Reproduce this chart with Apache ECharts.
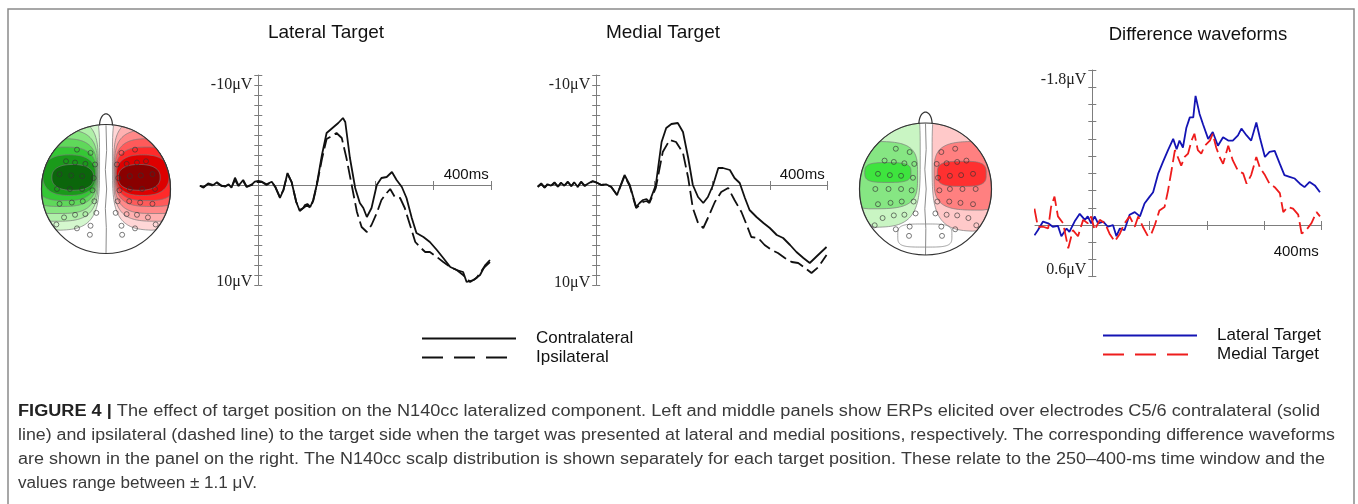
<!DOCTYPE html>
<html>
<head>
<meta charset="utf-8">
<title>N140cc figure</title>
<script src="https://cdn.jsdelivr.net/npm/echarts@6/dist/echarts.min.js"></script>
<style>
html, body { margin: 0; padding: 0; background: #fff; }
#main { width: 1358px; height: 504px; }
</style>
</head>
<body>
<div id="main"></div>
<script>
// ERP waveforms, time in ms, amplitude in microvolts (negative drawn upward)
const latContraT = [-100,-94,-86,-77,-71,-63,-57,-51,-46,-40,-34,-26,-20,-11,-6,0,6,14,23,29,37,43,50,57,65,71,77,80,84,89,94,100,109,117,123,129,137,145,149,157,166,174,180,186,194,203,211,220,229,237,246,254,263,271,283,294,306,317,329,340,351,357,369,380,389,397]
const latContraV = [0.07,0.27,-0.17,0,-0.27,0.07,0.17,-0.07,0.27,-0.73,0.07,-0.5,0.17,-0.07,-0.33,-0.4,-0.33,-0.07,-0.33,0.17,1.3,0.5,-1.2,-0.3,1.7,2.6,2.3,2.0,1.9,2.2,1.5,0,-3,-5.2,-5.5,-5.8,-6.2,-6.7,-6.3,-2.7,0.3,1.8,2.3,3.2,2.3,0,-0.7,-0.8,-1.3,-0.5,0.2,1.3,3.3,4.8,5.2,5.7,6.5,7.3,8.2,8.5,8.7,9.7,9.5,9.0,8.0,7.5]
const latIpsiT = [-100,-94,-86,-77,-71,-63,-57,-51,-46,-40,-34,-26,-20,-11,-6,0,6,14,23,29,37,43,50,57,65,71,77,84,89,94,100,109,117,123,134,143,151,160,169,177,186,194,203,211,220,226,234,243,251,260,269,277,286,294,306,317,329,340,351,363,374,386,397]
const latIpsiV = [0.1,0.2,-0.1,0.1,-0.2,0.1,0.1,0,0.2,-0.5,0.1,-0.4,0.2,0,-0.3,-0.3,-0.3,0,-0.3,0.2,1.2,0.5,-1.1,-0.3,1.7,2.5,2.3,2.0,2.3,1.6,0.1,-2.6,-4.6,-4.8,-5.2,-4.7,-2.7,0,2.7,4.2,4.7,4.0,2.8,1.5,0.8,0.4,1.2,1.3,2.3,4.0,5.7,6.2,6.7,6.7,7.2,7.7,8.2,8.5,9.0,9.7,9.3,8.3,7.7]

const medContraT = [-101,-95,-89,-84,-78,-72,-66,-61,-55,-49,-43,-38,-32,-26,-20,-13,-6,0,9,17,26,36,49,58,69,75,81,87,92,103,113,121,130,141,150,159,167,176,185,193,202,211,219,231,239,248,257,265,277,289,300,312,323,335,346,358,369,378,387,398]
const medContraV = [0.17,-0.17,0.27,-0.07,0.07,-0.27,0.17,-0.23,0.07,-0.33,0.13,-0.27,0.17,-0.33,0.07,-0.17,-0.4,-0.27,0,-0.07,0.17,1.0,-1.0,0,2.2,1.8,1.5,1.4,1.7,0,-4.3,-5.7,-6.1,-6.2,-5.3,-2.7,0,1.2,1.8,1.2,0,-1.7,-1.7,-1.5,-0.7,-0.2,1.3,2.5,3.2,3.8,4.3,5.0,5.3,6.0,6.7,7.3,7.8,7.3,6.8,6.2]
const medIpsiT = [-101,-95,-89,-84,-78,-72,-66,-61,-55,-49,-43,-38,-32,-26,-20,-13,-6,0,9,17,26,36,49,58,69,75,81,87,92,103,115,127,138,150,159,167,176,185,193,205,216,228,239,251,260,268,280,291,303,314,326,338,349,361,372,384,398]
const medIpsiV = [0.2,-0.1,0.25,-0.1,0.1,-0.2,0.15,-0.2,0.1,-0.3,0.1,-0.25,0.2,-0.3,0.1,-0.15,-0.35,-0.25,0,-0.05,0.2,1.0,-0.9,0.1,2.3,2.0,1.7,1.6,1.8,0.3,-3.3,-4.5,-4.3,-3.2,-0.7,2.3,3.8,4.3,3.3,1.7,0.7,0.3,1.5,2.7,4.0,5.2,5.3,6.0,6.5,6.8,7.3,7.7,7.8,8.3,8.8,8.2,7.0]

const diffLatT = [-101,-95,-86,-77,-69,-60,-54,-45,-40,-31,-22,-13,-8,-2,4,10,19,27,36,42,48,56,65,74,83,91,100,106,115,123,132,141,147,152,158,164,170,176,180,187,193,202,210,219,228,237,245,254,260,269,277,286,292,301,309,318,327,335,344,353,362,370,379,388,397]
const diffLatV = [0.12,0.06,-0.04,-0.02,0.02,0.01,0.13,0.04,0.08,-0.04,-0.13,-0.06,-0.1,-0.02,-0.1,-0.02,-0.04,0.02,0,0.13,0.04,0.06,-0.12,-0.15,-0.1,-0.25,-0.33,-0.38,-0.6,-0.73,-0.87,-1.0,-0.88,-0.98,-0.9,-1.13,-1.25,-1.25,-1.5,-1.29,-1.17,-1.0,-1.08,-0.92,-1.02,-0.98,-0.98,-1.04,-1.12,-1.04,-0.98,-1.19,-1.02,-0.79,-0.85,-0.86,-0.71,-0.58,-0.56,-0.54,-0.48,-0.44,-0.5,-0.46,-0.38]
const diffMedT = [-101,-95,-86,-77,-72,-66,-60,-51,-42,-34,-25,-16,-8,-2,4,13,22,30,39,48,56,65,74,80,88,97,103,109,117,126,132,138,144,149,155,161,167,173,178,184,190,196,205,210,216,222,228,237,245,254,263,269,277,286,292,301,309,318,327,333,341,350,359,365,373,382,391,397]
const diffMedV = [-0.19,0.02,0.02,0.04,-0.21,-0.33,-0.1,-0.02,0.27,0.06,0.13,-0.06,-0.02,-0.1,0.06,-0.06,-0.02,0.1,0.19,0.1,-0.02,-0.1,0.02,-0.1,0.02,0.13,0.1,0,-0.17,-0.21,-0.4,-0.63,-0.87,-0.79,-0.69,-0.79,-0.83,-0.98,-1.06,-0.87,-0.83,-0.92,-0.98,-1.06,-0.9,-0.79,-0.71,-0.92,-0.75,-0.63,-0.6,-0.48,-0.58,-0.79,-0.67,-0.58,-0.48,-0.44,-0.37,-0.15,-0.21,-0.19,-0.12,0.1,0.06,-0.02,-0.15,-0.1]

// time ticks drawn on the zero line (0 ms is where the amplitude axis sits)
const timeTicks = [100, 200, 300, 400]

// scalp maps, head radius = 1, y grows toward the back of the head
// contour regions, outer to inner: [left, right, front, back]
const latGreenLevels = [[-1.8,-0.1,-1.5,0.64],[-1.6,-0.12,-1.1,0.5],[-1.42,-0.13,-0.92,0.38],[-1.26,-0.14,-0.78,0.27],[-1.12,-0.15,-0.65,0.18],[-0.98,-0.16,-0.53,0.1],[-0.84,-0.19,-0.38,0.02]]
const latRedLevels = latGreenLevels.map(b => [-b[1], -b[0], b[2], b[3]])
const medGreenLevels = [[-1.8,-0.08,-1.6,0.58],[-1.6,-0.12,-0.72,0.3],[-0.92,-0.22,-0.4,-0.1]]
const medRedLevels = [[0.1,1.8,-1.6,0.64],[0.13,1.6,-0.72,0.32],[0.18,0.92,-0.42,-0.04]]
const medBackLevels = [[-0.42,0.4,0.53,0.88]]
const elecX = [-0.45,-0.24,-0.62,-0.48,-0.32,-0.17,-0.72,-0.54,-0.37,-0.19,-0.76,-0.56,-0.37,-0.21,-0.72,-0.53,-0.36,-0.18,-0.65,-0.48,-0.32,-0.15,-0.77,-0.45,-0.24,-0.25]
const elecY = [-0.61,-0.56,-0.43,-0.41,-0.39,-0.38,-0.23,-0.21,-0.2,-0.17,0,0,0,0.02,0.23,0.21,0.19,0.19,0.44,0.4,0.39,0.37,0.55,0.61,0.57,0.71]
const midX = [0,0.01,-0.01,0.01,-0.01,0.005,0]
const midY = [-0.99,-0.6,-0.3,0,0.3,0.6,1]

const latGreenColors = ['#d4f7ce','#b0f0a9','#88e581','#5fd85a','#35c735','#1a9a1a','#0b660b']
const latRedColors = ['#ffd6d6','#ffb0b0','#ff8888','#ff5a5a','#ff2a2a','#dd0000','#8a0000']
const medGreenColors = ['#c9f5c3','#86e683','#3ee43e']
const medRedColors = ['#ffc9c9','#ff8080','#ff3030']

const zip = (t, v) => t.map((x, i) => [x, v[i]])
const electrodes = zip(elecX, elecY).concat(zip(elecX.map(x => -x), elecY))

const axisGrey = '#7d7d7d'
const serif = 'Liberation Serif, Times New Roman, serif'
const sans = 'Liberation Sans, Arial, sans-serif'

// offsets put the axes on the zero lines (grid edge is -100 ms / bottom of range)
function erpX (gi, labelInside, margin, shift) {
  return {
    type: 'value', gridIndex: gi, min: -100, max: 400, interval: 100,
    position: 'bottom', offset: shift,
    axisLine: { onZero: false, lineStyle: { color: axisGrey, width: 1 } },
    axisTick: { show: true, length: 5, customValues: timeTicks, lineStyle: { color: axisGrey } },
    splitLine: { show: false },
    axisLabel: {
      inside: labelInside, margin: margin, showMaxLabel: true, align: 'right',
      padding: [0, 3, 0, 0], color: '#111', fontFamily: sans, fontSize: 15,
      formatter: v => (v === 400 ? '400ms' : '')
    }
  }
}

function erpY (gi, min, max, interval, shift, fmt, rich) {
  return {
    type: 'value', gridIndex: gi, inverse: true, min: min, max: max, interval: interval,
    position: 'left', offset: shift,
    axisLine: { show: true, onZero: false, lineStyle: { color: axisGrey, width: 1 } },
    axisTick: { show: true, length: 4, lineStyle: { color: axisGrey } },
    splitLine: { show: false },
    axisLabel: { show: true, margin: 6, color: '#222', fontFamily: serif, fontSize: 16, formatter: fmt, rich: rich }
  }
}

// second copy of an axis that only draws the inner half of each tick, so ticks cross the line
function innerTicks (axis) {
  return Object.assign({}, axis, {
    axisLine: { show: false, onZero: false },
    axisTick: Object.assign({}, axis.axisTick, { inside: true, length: 4 }),
    axisLabel: { show: false }
  })
}

function headAxis (gi, isY) {
  return { type: 'value', gridIndex: gi, min: -1.2, max: 1.2, show: false, inverse: isY }
}

function erpLine (name, t, v, gi, color, dashed) {
  return {
    name: name, type: 'line', xAxisIndex: gi, yAxisIndex: gi, data: zip(t, v),
    symbol: 'none', z: 3, silent: true,
    lineStyle: { color: color, width: 1.8, type: dashed ? [14, 5] : 'solid' },
    itemStyle: { color: color }
  }
}

function contour (levels, colors, gi) {
  return {
    type: 'custom', xAxisIndex: gi, yAxisIndex: gi, clip: false, silent: true, z: 1,
    data: levels.map((b, i) => [b[0], b[1], b[2], b[3], i]),
    renderItem: function (params, api) {
      const l = api.value(0), r = api.value(1), t = api.value(2), b = api.value(3)
      const idx = api.value(4)
      const cx = (l + r) / 2, cy = (t + b) / 2, a = (r - l) / 2, h = (b - t) / 2
      // outer contours are squarer, inner ones rounder
      const e = 2 / Math.max(2.4, 4 - idx * 0.3)
      const pts = []
      for (let k = 0; k < 160; k++) {
        const th = k / 160 * Math.PI * 2
        const c = Math.cos(th), s = Math.sin(th)
        let x = cx + a * Math.sign(c) * Math.pow(Math.abs(c), e)
        let y = cy + h * Math.sign(s) * Math.pow(Math.abs(s), e)
        const d = Math.hypot(x, y)
        if (d > 1) { x /= d; y /= d }
        pts.push(api.coord([x, y]))
      }
      return {
        type: 'polygon', shape: { points: pts },
        style: { fill: colors ? colors[idx] : 'none', stroke: '#7a7a7a', lineWidth: 0.7 }
      }
    }
  }
}

function head (gi) {
  return {
    type: 'custom', xAxisIndex: gi, yAxisIndex: gi, clip: false, silent: true, z: 4,
    data: [[0, 0]],
    renderItem: function (params, api) {
      const c = api.coord([0, 0])
      const r = api.coord([1, 0])[0] - c[0]
      const nose = []
      for (let k = 0; k <= 30; k++) {
        const th = k / 30 * Math.PI
        nose.push(api.coord([0.1 * Math.cos(th), -0.985 - 0.18 * Math.sin(th)]))
      }
      return {
        type: 'group',
        children: [
          { type: 'circle', shape: { cx: c[0], cy: c[1], r: r }, style: { fill: 'none', stroke: '#333', lineWidth: 1.2 } },
          { type: 'polyline', shape: { points: nose }, style: { fill: 'none', stroke: '#333', lineWidth: 1.2 } }
        ]
      }
    }
  }
}

function headExtras (gi) {
  return [
    {
      type: 'line', xAxisIndex: gi, yAxisIndex: gi, data: zip(midX, midY), symbol: 'none',
      silent: true, z: 2, lineStyle: { color: '#8a8a8a', width: 1 }
    },
    {
      type: 'scatter', xAxisIndex: gi, yAxisIndex: gi, data: electrodes, symbol: 'circle',
      symbolSize: 5, silent: true, z: 5,
      itemStyle: { color: 'rgba(0,0,0,0)', borderColor: '#333', borderWidth: 0.8 }
    }
  ]
}

const chart = echarts.init(document.getElementById('main'))

const captionLines = [
  '{b|FIGURE 4 |} The effect of target position on the N140cc lateralized component. Left and middle panels show ERPs elicited over electrodes C5/6 contralateral (solid',
  'line) and ipsilateral (dashed line) to the target side when the target was presented at lateral and medial positions, respectively. The corresponding difference waveforms',
  'are shown in the panel on the right. The N140cc scalp distribution is shown separately for each target position. These relate to the 250–400-ms time window and the',
  'values range between ± 1.1 μV.'
]
const captionEnds = [1320, 1335, 1325, 257]
const captionFont = 16
// the printed caption face runs wider than Liberation Sans: stretch each line to its printed length
const ctx = document.createElement('canvas').getContext('2d')
function lineWidth (txt) {
  let w = 0
  if (txt.indexOf('{b|') === 0) {
    const bold = txt.slice(3, txt.indexOf('}'))
    ctx.font = 'bold ' + captionFont + 'px ' + sans
    w += ctx.measureText(bold).width
    txt = txt.slice(txt.indexOf('}') + 1)
  }
  ctx.font = captionFont + 'px ' + sans
  return w + ctx.measureText(txt).width
}
const stretches = captionLines.map((txt, i) => (captionEnds[i] - 18) / lineWidth(txt))

const xAxes = [
  erpX(0, true, 3, -100),
  erpX(1, true, 3, -100),
  erpX(2, false, 19, -51.7),
  headAxis(3, false),
  headAxis(4, false)
]
const yAxes = [
  erpY(0, -11, 10, 1, -58.3, v => (v === -10 ? '-10μV' : v === 10 ? '{lo|10μV}' : ''), { lo: { padding: [0, 0, 6, 0], fontFamily: serif, fontSize: 16, color: '#222' } }),
  erpY(1, -11, 10, 1, -57.9, v => (v === -10 ? '-10μV' : v === 10 ? '{lo|10μV}' : ''), { lo: { padding: [0, 0, 4, 0], fontFamily: serif, fontSize: 16, color: '#222' } }),
  erpY(2, -1.8, 0.6, 0.2, -57.3, v => (Math.abs(v + 1.8) < 1e-6 ? '{hi|-1.8μV}' : Math.abs(v - 0.6) < 1e-6 ? '{lo|0.6μV}' : ''), {
    hi: { padding: [20, 0, 0, 0], fontFamily: serif, fontSize: 16, color: '#222' },
    lo: { padding: [0, 0, 14, 0], fontFamily: serif, fontSize: 16, color: '#222' }
  }),
  headAxis(3, true),
  headAxis(4, true)
]
// crossing ticks for the three waveform panels
for (let i = 0; i < 3; i++) {
  xAxes.push(innerTicks(xAxes[i]))
  yAxes.push(innerTicks(yAxes[i]))
}

const option = {
  animation: false,
  backgroundColor: '#fff',
  grid: [
    { left: 200, top: 75, width: 291.7, height: 210, outerBoundsMode: 'none' },
    { left: 538.3, top: 75, width: 289.4, height: 210, outerBoundsMode: 'none' },
    { left: 1035, top: 70, width: 286.7, height: 206.7, outerBoundsMode: 'none' },
    { left: 28.6, top: 111.6, width: 154.8, height: 154.8, outerBoundsMode: 'none' },
    { left: 846.3, top: 109.8, width: 158.4, height: 158.4, outerBoundsMode: 'none' }
  ],
  xAxis: xAxes,
  yAxis: yAxes,
  legend: [
    {
      data: [{ name: 'Contralateral' }, { name: 'Ipsilateral', lineStyle: { type: [21, 11] } }],
      orient: 'vertical', left: 416, top: 325, itemWidth: 94, itemHeight: 14, itemGap: 2,
      selectedMode: false, itemStyle: { opacity: 0 },
      textStyle: { fontSize: 17, fontFamily: sans, color: '#111', padding: [0, 0, 0, 15] }
    },
    {
      data: [{ name: 'Lateral Target' }, { name: 'Medial Target', lineStyle: { type: [21, 11] } }],
      orient: 'vertical', left: 1097, top: 322, itemWidth: 94, itemHeight: 14, itemGap: 2,
      selectedMode: false, itemStyle: { opacity: 0 },
      textStyle: { fontSize: 17, fontFamily: sans, color: '#111', padding: [0, 0, 0, 15] }
    }
  ],
  graphic: [
    { type: 'rect', silent: true, z: -1, shape: { x: 8, y: 9, width: 1346, height: 540 }, style: { fill: 'none', stroke: '#8a8a8a', lineWidth: 1.5 } },
    { type: 'text', x: 326, y: 33, style: { text: 'Lateral Target', align: 'center', verticalAlign: 'middle', fontSize: 19, fontFamily: sans, fill: '#111' } },
    { type: 'text', x: 663, y: 33, style: { text: 'Medial Target', align: 'center', verticalAlign: 'middle', fontSize: 19, fontFamily: sans, fill: '#111' } },
    { type: 'text', x: 1198, y: 35, style: { text: 'Difference waveforms', align: 'center', verticalAlign: 'middle', fontSize: 18.5, fontFamily: sans, fill: '#111' } }
  ].concat(captionLines.map((txt, i) => ({
    type: 'text', x: 18, y: 412 + i * 23.8, scaleX: stretches[i],
    style: {
      text: txt, verticalAlign: 'middle', fontSize: captionFont, fontFamily: sans, fill: '#3a3a3a',
      rich: { b: { fontWeight: 'bold', fontSize: captionFont, fontFamily: sans, fill: '#222' } }
    }
  }))),
  series: [
    contour(latGreenLevels, latGreenColors, 3),
    contour(latRedLevels, latRedColors, 3),
    head(3),
    ...headExtras(3),
    contour(medGreenLevels, medGreenColors, 4),
    contour(medRedLevels, medRedColors, 4),
    contour(medBackLevels, null, 4),
    head(4),
    ...headExtras(4),
    erpLine('Contralateral', latContraT, latContraV, 0, '#111', false),
    erpLine('Ipsilateral', latIpsiT, latIpsiV, 0, '#111', true),
    erpLine('Contralateral', medContraT, medContraV, 1, '#111', false),
    erpLine('Ipsilateral', medIpsiT, medIpsiV, 1, '#111', true),
    erpLine('Lateral Target', diffLatT, diffLatV, 2, '#1414b4', false),
    erpLine('Medial Target', diffMedT, diffMedV, 2, '#ee1c1c', true)
  ]
}

chart.setOption(option)
</script>
</body>
</html>
